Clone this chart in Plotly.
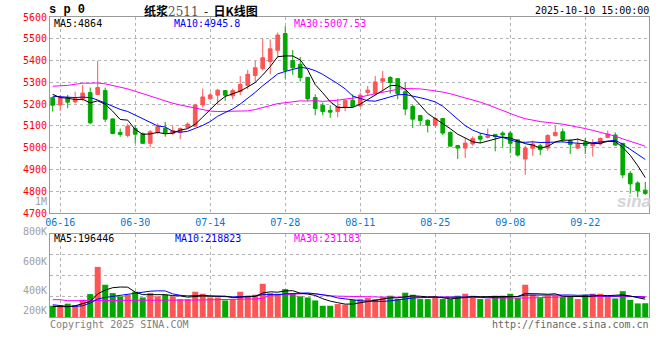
import pandas as pd
import plotly.graph_objects as go

# ---------------- data ----------------
all_days = pd.bdate_range("2025-06-13", "2025-10-10")
holiday = (all_days >= "2025-10-01") & (all_days <= "2025-10-08")
dates = [d.strftime("%Y-%m-%d") for d in all_days[~holiday]]

tick_dates = ["2025-06-16", "2025-06-30", "2025-07-14", "2025-07-28",
              "2025-08-11", "2025-08-25", "2025-09-08", "2025-09-22"]
tick_text = ["06-16", "06-30", "07-14", "07-28", "08-11", "08-25", "09-08", "09-22"]

open_ = [5230, 5196, 5230, 5210, 5224, 5253, 5244, 5262, 5132, 5070,
         5056, 5088, 5064, 5020, 5070, 5088, 5065, 5070, 5093, 5099,
         5196, 5225, 5241, 5262, 5238, 5257, 5286, 5331, 5363, 5395,
         5447, 5524, 5400, 5383, 5323, 5230, 5195, 5171, 5166, 5184,
         5218, 5192, 5254, 5248, 5305, 5322, 5317, 5257, 5189, 5148,
         5126, 5102, 5134, 5070, 5010, 4998, 5017, 5052, 5047, 5061,
         5067, 5067, 5036, 4948, 4997, 5009, 4998, 5055, 5073, 5033,
         4998, 5024, 5009, 5017, 5047, 5058, 5020, 4882, 4838, 4805]
high = [5232, 5241, 5242, 5257, 5289, 5276, 5398, 5276, 5134, 5088,
        5111, 5103, 5070, 5081, 5111, 5119, 5100, 5093, 5116, 5200,
        5271, 5253, 5270, 5262, 5271, 5329, 5357, 5398, 5500, 5497,
        5529, 5558, 5448, 5416, 5323, 5245, 5207, 5195, 5225, 5222,
        5245, 5253, 5283, 5329, 5352, 5329, 5317, 5299, 5197, 5148,
        5129, 5142, 5134, 5075, 5010, 5044, 5052, 5068, 5088, 5061,
        5075, 5076, 5036, 5009, 5032, 5017, 5062, 5100, 5088, 5039,
        5044, 5044, 5039, 5047, 5078, 5070, 5020, 4892, 4846, 4843]
low = [5166, 5170, 5181, 5203, 5215, 5108, 5242, 5117, 5062, 5050,
       5047, 5020, 5017, 5001, 5062, 5050, 5059, 5039, 5090, 5096,
       5184, 5219, 5196, 5215, 5222, 5242, 5268, 5302, 5355, 5337,
       5416, 5318, 5334, 5303, 5215, 5149, 5149, 5137, 5140, 5168,
       5186, 5187, 5238, 5241, 5257, 5248, 5222, 5149, 5090, 5100,
       5070, 5093, 5058, 5007, 4948, 4952, 5009, 5020, 5042, 4983,
       5001, 4974, 4959, 4875, 4963, 4966, 4986, 5052, 5024, 4971,
       4994, 4971, 4959, 5009, 5044, 5009, 4861, 4788, 4772, 4783]
close = [5195, 5230, 5209, 5225, 5251, 5114, 5276, 5131, 5065, 5061,
         5099, 5062, 5020, 5073, 5096, 5067, 5078, 5088, 5108, 5196,
         5233, 5242, 5264, 5241, 5262, 5290, 5337, 5367, 5413, 5454,
         5517, 5355, 5367, 5322, 5224, 5180, 5166, 5163, 5190, 5216,
         5189, 5241, 5264, 5302, 5317, 5299, 5248, 5177, 5131, 5125,
         5103, 5134, 5067, 5007, 4998, 5021, 5042, 5039, 5055, 5050,
         5058, 5020, 4966, 4998, 5017, 4991, 5056, 5070, 5039, 5015,
         5015, 5009, 5017, 5042, 5062, 5012, 4875, 4834, 4802, 4790]
volume = [124000, 132000, 147000, 132000, 191000, 253000, 553000, 356000, 264000, 228000,
          246000, 279000, 216000, 264000, 228000, 246000, 228000, 198000, 198000, 279000,
          257000, 216000, 216000, 183000, 198000, 279000, 235000, 246000, 367000, 264000,
          257000, 308000, 257000, 228000, 216000, 183000, 124000, 124000, 143000, 136000,
          191000, 198000, 209000, 198000, 220000, 235000, 198000, 268000, 246000, 198000,
          198000, 209000, 198000, 198000, 235000, 257000, 235000, 198000, 198000, 235000,
          235000, 257000, 209000, 356000, 246000, 209000, 235000, 235000, 220000, 228000,
          198000, 246000, 257000, 257000, 220000, 205000, 285000, 190000, 150000, 152000]

# moving-average values before the window is full (drawn from earlier, unseen days)
ma5_head = [5245, 5230, 5227, 5221]
ma10_head = [5236, 5233, 5232, 5230, 5232, 5230, 5219, 5204, 5187]
ma30_head = [5282, 5283, 5286, 5291, 5296, 5296, 5297, 5293, 5286, 5279,
             5270, 5259, 5248, 5236, 5225, 5213, 5204, 5196, 5189, 5180,
             5172, 5168, 5166, 5166, 5166, 5166, 5169, 5175, 5183]
vma5_head = [117000, 117000, 113000, 124000]
vma10_head = [135000, 124000, 117000, 117000, 124000, 154000, 198000, 216000, 228000]
vma30_head = [191000, 191000, 180000, 180000, 180000, 180000, 180000, 180000, 180000, 180000,
              180000, 180000, 182000, 182000, 182000, 184000, 184000, 186000, 186000, 188000,
              188000, 190000, 190000, 192000, 194000, 196000, 198000, 200000, 206000]

legend_price = ["MA5:4864", "MA10:4945.8", "MA30:5007.53"]
legend_vol = ["MA5:196446", "MA10:218823", "MA30:231183"]
vol_labels = ["800K", "600K", "400K", "200K"]


def moving_avg(values, n, head):
    s = pd.Series(values, dtype=float).rolling(n).mean().tolist()
    return list(head) + s[n - 1:]


ma5 = moving_avg(close, 5, ma5_head)
ma10 = moving_avg(close, 10, ma10_head)
ma30 = moving_avg(close, 30, ma30_head)
vma5 = moving_avg(volume, 5, vma5_head)
vma10 = moving_avg(volume, 10, vma10_head)
vma30 = moving_avg(volume, 30, vma30_head)

# ---------------- styling ----------------
RED = "#ff5555"
GREEN = "#00a800"
MONO = "DejaVu Sans Mono"
GRID = "#b4b4b4"
BORDER = "#9a9a9a"
VMAX = 913000

# figure geometry (pixels)
L, R, T, B = 50, 11, 17, 43
W, H = 660, 360
PW, PH = W - L - R, H - T - B


def px(xp):
    return (xp - L) / PW


def py(yp):
    return (H - B - yp) / PH


fig = go.Figure()
fig.add_trace(go.Candlestick(
    x=dates, open=open_, high=high, low=low, close=close,
    increasing=dict(line=dict(color=RED, width=1), fillcolor=RED),
    decreasing=dict(line=dict(color=GREEN, width=1), fillcolor=GREEN),
    whiskerwidth=0, xaxis="x", yaxis="y", hoverinfo="skip", showlegend=False))
for vals, col in [(ma30, "#ff00ff"), (ma10, "#0000ff"), (ma5, "#000000")]:
    fig.add_trace(go.Scatter(x=dates, y=vals, mode="lines", line=dict(color=col, width=1),
                             xaxis="x", yaxis="y", hoverinfo="skip", showlegend=False))

vol_colors = [RED if c >= o else GREEN for o, c in zip(open_, close)]
fig.add_trace(go.Bar(x=dates, y=volume, marker=dict(color=vol_colors, line=dict(width=0)),
                     xaxis="x2", yaxis="y2", hoverinfo="skip", showlegend=False))
for vals, col in [(vma30, "#ff00ff"), (vma10, "#0000ff"), (vma5, "#000000")]:
    fig.add_trace(go.Scatter(x=dates, y=vals, mode="lines", line=dict(color=col, width=1),
                             xaxis="x2", yaxis="y2", hoverinfo="skip", showlegend=False))

xr = [-0.36, 79.5]
common_x = dict(type="category", range=xr, tickvals=tick_dates, ticktext=tick_text,
                showgrid=True, gridcolor=GRID, griddash="dot", gridwidth=1,
                showline=True, linecolor=BORDER, linewidth=1, mirror=True, ticks="",
                fixedrange=True)
price_bottom = py(213)
vol_top = py(234.3)

fig.update_layout(
    width=W, height=H, margin=dict(l=L, r=R, t=T, b=B),
    paper_bgcolor="white", plot_bgcolor="white", showlegend=False,
    bargap=0.2, hovermode=False,
    xaxis=dict(common_x, domain=[0, 1], anchor="y",
               tickfont=dict(family=MONO, size=10, color="#0a78c8"),
               rangeslider=dict(visible=False)),
    yaxis=dict(domain=[price_bottom, 1], range=[4700, 5600], tick0=4700, dtick=100,
               showgrid=True, gridcolor=GRID, griddash="dot", gridwidth=1,
               showline=True, linecolor=BORDER, linewidth=1, mirror=True, ticks="",
               zeroline=False, tickfont=dict(family=MONO, size=10, color="#ff0000"),
               fixedrange=True),
    xaxis2=dict(common_x, domain=[0, 1], anchor="y2", matches="x", showticklabels=False),
    yaxis2=dict(domain=[0, vol_top], range=[0, VMAX],
                tickvals=[VMAX * 0.25, VMAX * 0.5, VMAX * 0.75], showticklabels=False,
                showgrid=True, gridcolor=GRID, griddash="dot", gridwidth=1,
                showline=True, linecolor=BORDER, linewidth=1, mirror=True, ticks="",
                zeroline=False, fixedrange=True),
)

ann = []


def text(xp, yp, s, color="#000000", size=10, anchor="left", family=MONO):
    ann.append(dict(x=px(xp), y=py(yp), xref="paper", yref="paper", text=s,
                    showarrow=False, xanchor=anchor, yanchor="middle", borderpad=0,
                    font=dict(family=family, size=size, color=color)))


text(48, 10.5, "<b>s p 0</b>", size=12, family="Liberation Mono")
text(201, 10.5, "<b>纸浆</b><span style='font-family:DejaVu Serif;color:#555'>2511</span>  -  <b>日K线图</b>",
     size=12, anchor="center", family="Noto Sans CJK SC")
text(650, 11, "2025-10-10 15:00:00", anchor="right")
for xp, s, col in zip([53, 173, 293], legend_price, ["#000000", "#0000ff", "#ff00ff"]):
    text(xp, 24, s, color=col)
for xp, s, col in zip([53, 174, 293], legend_vol, ["#000000", "#0000ff", "#ff00ff"]):
    text(xp, 238.5, s, color=col)
for yp, s in zip([231, 261, 290, 310.5], vol_labels):
    text(47.5, yp, s, color="#a0a0a0", anchor="right")
text(47.5, 201, "1M", color="#a0a0a0", anchor="right")
text(49, 324, "Copyright 2025 SINA.COM", color="#808080")
text(650, 324, "http://finance.sina.com.cn", color="#666666", anchor="right")
text(634, 201, "<b><i>sina</i></b>", color="#d4d4d4", size=17, anchor="center",
     family="Liberation Sans")
fig.update_layout(annotations=ann)

fig.write_html("out.html", config={"displayModeBar": False, "staticPlot": True},
               post_script="document.body.style.margin='0';document.body.style.padding='0';")
